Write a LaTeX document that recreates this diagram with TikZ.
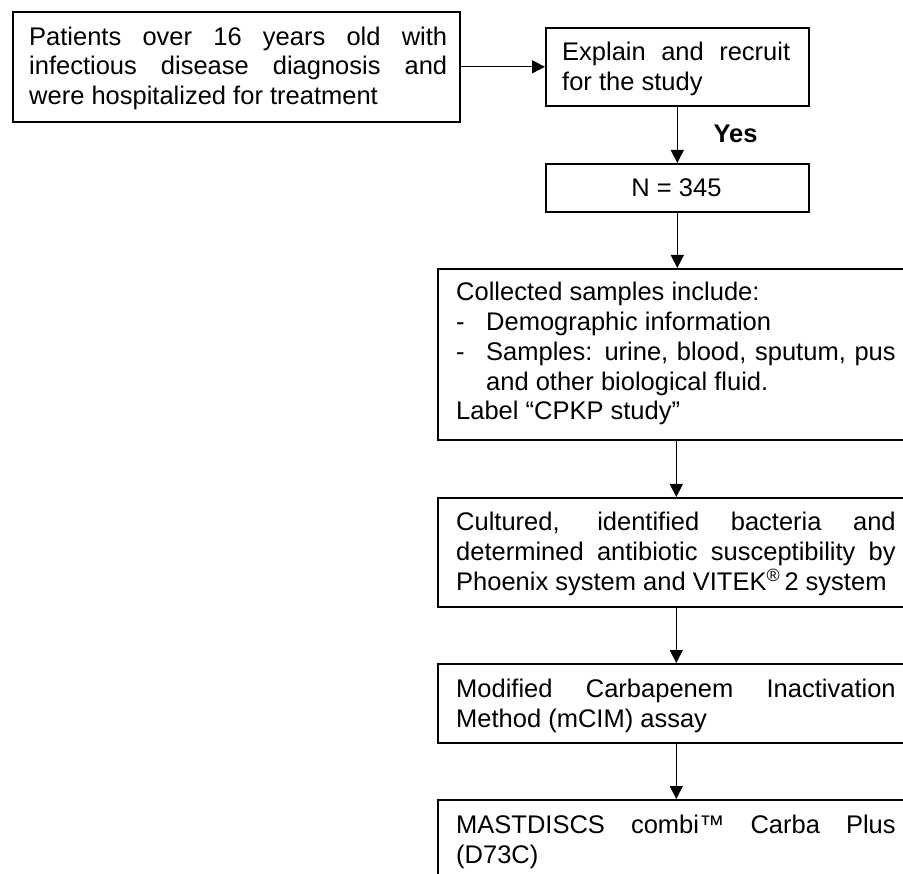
\documentclass[tikz,border=0pt]{standalone}
\usepackage{fontspec}
\setmainfont{Liberation Sans}
\usetikzlibrary{arrows.meta}
\newcommand\fst{\rule{0pt}{20pt}}
\newcommand\jst[2]{\makebox[#1][s]{#2}}
\newcommand\dsh{\makebox[30pt][l]{-}}
\begin{document}
\begin{tikzpicture}[x=1pt,y=-1pt,
  boxst/.style={draw, line width=1.6pt, inner sep=0pt, anchor=north west},
  txt/.style={inner sep=0pt, anchor=north west, align=left,
    font=\fontsize{25.5}{29.8}\selectfont},
  arr/.style={line width=0.9pt, -{Triangle[length=13pt,width=13pt]}}]
\useasboundingbox (0,0) rectangle (903,874);
\clip (0,0) rectangle (903,874);
\fill[white] (0,0) rectangle (903,874);
% boxes
\node[boxst, minimum width=447pt, minimum height=110pt] (b1) at (12,11) {};
\node[boxst, minimum width=263pt, minimum height=78pt] (b2) at (545,27) {};
\node[boxst, minimum width=263pt, minimum height=48pt] (bN) at (545,163) {};
\node[boxst, minimum width=477pt, minimum height=171pt] (b3) at (437,268) {};
\node[boxst, minimum width=477pt, minimum height=109pt] (b4) at (437,497) {};
\node[boxst, minimum width=477pt, minimum height=79pt] (b5) at (437,663) {};
\node[boxst, minimum width=477pt, minimum height=120pt] (b6) at (437,799) {};
% texts
\node[txt] (t1) at (29,25) {\fst\jst{418pt}{Patients over 16 years old with}\\
\jst{418pt}{infectious disease diagnosis and}\\
were hospitalized for treatment};
\node[txt] (t2) at (562,40.5) {\fst\jst{228pt}{Explain and recruit}\\
for the study};
\node[inner sep=0pt, anchor=base, font=\fontsize{25.5}{29.8}\selectfont] (tN) at (676.5,197) {N = 345};
\node[inner sep=0pt, anchor=base, font=\fontsize{25.5}{29.8}\selectfont\bfseries] (yes) at (735.5,143) {Yes};
\node[txt] (t3) at (456,280.5) {\fst Collected samples include:\\
\dsh Demographic information\\
\dsh\jst{409.5pt}{Samples: urine, blood, sputum, pus}\\
\hspace*{30pt}and other biological fluid.\\
Label “CPKP study”};
\node[txt] (t4) at (456,510.5) {\fst\jst{439.5pt}{Cultured, identified bacteria and}\\
\jst{439.5pt}{determined antibiotic susceptibility by}\\
Phoenix system and VITEK\textsuperscript{®}\,2 system};
\node[txt] (t5) at (456,677) {\fst\jst{439.5pt}{Modified Carbapenem Inactivation}\\
Method (mCIM) assay};
\node[txt] (t6) at (456,813) {\fst\jst{439.5pt}{MASTDISCS combi™ Carba Plus}\\
(D73C)};
% connectors
\draw[arr] (b1.east) -- (b2.west);
\draw[arr] (b2.south) -- (bN.north);
\draw[arr] (bN.south) -- (bN.south |- b3.north);
\draw[arr] (b3.south) -- (b4.north);
\draw[arr] (b4.south) -- (b5.north);
\draw[arr] (b5.south) -- (b6.north);
\end{tikzpicture}
\end{document}
